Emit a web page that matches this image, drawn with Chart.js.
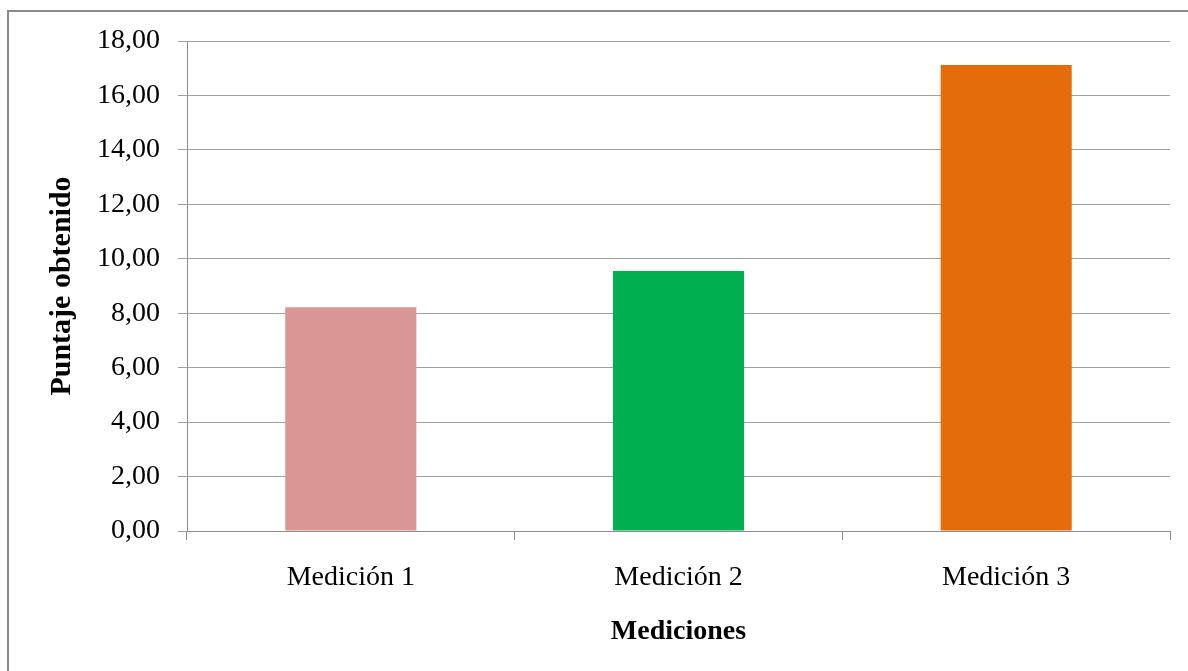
<!DOCTYPE html>
<html>
<head>
<meta charset="utf-8">
<script src="https://cdn.jsdelivr.net/npm/chart.js@4.4.1/dist/chart.umd.min.js"></script>
<style>
  html, body { margin: 0; padding: 0; background: #fff; overflow: hidden; }
  #wrap { position: relative; width: 1188px; height: 671px; }
  #frame { position: absolute; left: 7px; top: 10px; width: 1300px; height: 800px; border-left: 2px solid #8a8a8a; border-top: 2px solid #8a8a8a; box-sizing: border-box; pointer-events: none; }
  canvas { position: absolute; left: 0; top: 0; }
</style>
</head>
<body>
<div id="wrap">
  <canvas id="c" width="1188" height="671"></canvas>
  <div id="frame"></div>
</div>
<script>
const categories = ['Medición 1', 'Medición 2', 'Medición 3'];
const values = [8.22, 9.55, 17.12];
const barColors = ['#D99694', '#00B050', '#E46C0A'];
const yTicks = { min: 0, max: 18, step: 2 };
const xTitle = 'Mediciones';
const yTitle = 'Puntaje obtenido';

const FONT = "'Liberation Serif', 'Times New Roman', serif";

new Chart(document.getElementById('c'), {
  type: 'bar',
  data: {
    labels: categories,
    datasets: [{
      data: values,
      backgroundColor: barColors,
      borderWidth: 0,
      barPercentage: 0.4,
      categoryPercentage: 1.0
    }]
  },
  options: {
    responsive: false,
    animation: false,
    devicePixelRatio: 1,
    layout: { padding: { left: 0, right: 18, top: 41, bottom: 0 } },
    plugins: { legend: { display: false }, tooltip: { enabled: false } },
    scales: {
      x: {
        afterFit: (s) => { s.height = 140; },
        grid: { display: true, drawOnChartArea: false, drawTicks: true, offset: true, tickLength: 9, color: '#8c8c8c', lineWidth: 1 },
        border: { display: true, color: '#8c8c8c', width: 1 },
        ticks: { color: '#000', font: { family: FONT, size: 28 }, padding: 21 },
        title: { display: true, text: xTitle, color: '#000', font: { family: FONT, size: 28, weight: 'bold' }, padding: { top: 22, bottom: 22 } }
      },
      y: {
        min: yTicks.min,
        max: yTicks.max,
        afterFit: (s) => { s.width = 187; },
        grid: { display: true, drawOnChartArea: true, drawTicks: true, tickLength: 9, color: '#a0a0a0', lineWidth: 1 },
        border: { display: true, color: '#8c8c8c', width: 1 },
        ticks: {
          stepSize: yTicks.step,
          color: '#000',
          padding: 18,
          font: { family: FONT, size: 28 },
          callback: (v) => Number(v).toFixed(2).replace('.', ',')
        },
        title: { display: true, text: yTitle, color: '#000', font: { family: FONT, size: 30, weight: 'bold' }, padding: { top: 44, bottom: 44 } }
      }
    }
  }
});
</script>
</body>
</html>
